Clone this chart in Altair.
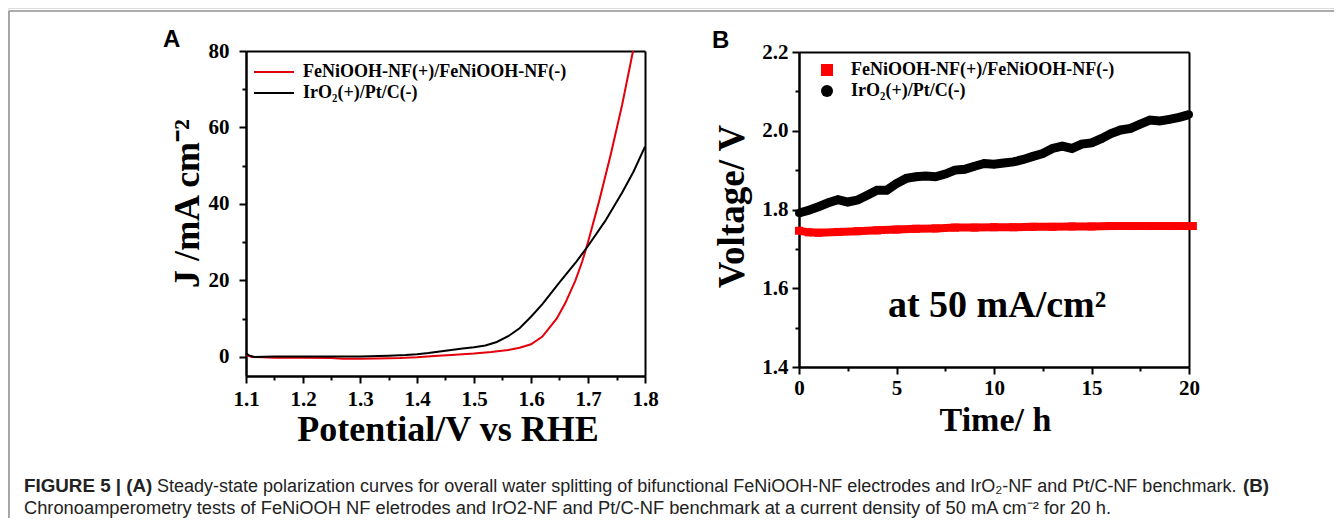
import altair as alt
import pandas as pd

# ---------------- data ----------------
S1 = "FeNiOOH-NF(+)/FeNiOOH-NF(-)"
S2 = "IrO₂(+)/Pt/C(-)"

# Panel A: polarization curves
a_red_v = [1.100, 1.105, 1.110, 1.130, 1.150, 1.200, 1.250, 1.270, 1.300, 1.330, 1.370, 1.400,
           1.430, 1.460, 1.500, 1.530, 1.560, 1.580, 1.600, 1.620, 1.645, 1.660, 1.678, 1.690,
           1.700, 1.720, 1.740, 1.760, 1.779]
a_red_j = [0.6, 0.3, 0.0, -0.1, -0.2, -0.2, -0.3, -0.5, -0.5, -0.4, -0.3, -0.1,
           0.2, 0.5, 0.9, 1.3, 1.8, 2.4, 3.3, 5.3, 10.0, 14.0, 20.0, 25.0,
           30.0, 41.0, 53.0, 66.0, 80.0]
a_blk_v = [1.100, 1.105, 1.115, 1.150, 1.200, 1.250, 1.300, 1.350, 1.380, 1.400, 1.420, 1.450,
           1.480, 1.500, 1.520, 1.540, 1.560, 1.580, 1.600, 1.620, 1.650, 1.680, 1.700, 1.730,
           1.760, 1.780, 1.800]
a_blk_j = [0.9, 0.4, 0.0, 0.1, 0.1, 0.1, 0.1, 0.3, 0.5, 0.7, 1.0, 1.6,
           2.2, 2.5, 3.0, 3.9, 5.4, 7.5, 10.5, 13.8, 19.5, 25.0, 29.0, 35.5,
           43.0, 48.5, 55.0]

# Panel B: chronopotentiometry
b_red_t = [0, 0.5, 1, 2, 3, 4, 5, 6, 7, 8, 9, 10, 11, 12, 13, 14, 15, 16, 17, 18, 19, 20, 20.2]
b_red_v = [1.746, 1.742, 1.741, 1.743, 1.745, 1.747, 1.749, 1.751, 1.752, 1.754, 1.754, 1.755,
           1.755, 1.756, 1.756, 1.757, 1.757, 1.758, 1.758, 1.758, 1.758, 1.758, 1.758]
b_blk_t = [0, 0.5, 1, 1.5, 2, 2.5, 3, 3.5, 4, 4.5, 5, 5.5, 6, 6.5, 7, 7.5, 8, 8.5, 9, 9.5, 10,
           10.5, 11, 11.5, 12, 12.5, 13, 13.5, 14, 14.5, 15, 15.5, 16, 16.5, 17, 17.5, 18, 18.5,
           19, 19.5, 20]
b_blk_v = [1.791, 1.798, 1.807, 1.817, 1.825, 1.819, 1.824, 1.836, 1.849, 1.849, 1.866, 1.879,
           1.883, 1.885, 1.883, 1.890, 1.900, 1.902, 1.910, 1.917, 1.915, 1.918, 1.921, 1.927,
           1.935, 1.942, 1.955, 1.961, 1.955, 1.966, 1.969, 1.980, 1.993, 2.002, 2.006, 2.017,
           2.027, 2.025, 2.029, 2.034, 2.041]

# ticks
A_XT = [1.1, 1.2, 1.3, 1.4, 1.5, 1.6, 1.7, 1.8]
A_XM = [1.15, 1.25, 1.35, 1.45, 1.55, 1.65, 1.75]
A_YT = [0, 20, 40, 60, 80]
A_YM = [10, 30, 50, 70]
B_XT = [0, 5, 10, 15, 20]
B_XM = [2.5, 7.5, 12.5, 17.5]
B_YT = [1.4, 1.6, 1.8, 2.0, 2.2]
B_YM = [1.5, 1.7, 1.9, 2.1]

# ---------------- layout (chart pixel coords) ----------------
W, H = 1326, 510
A_XR, A_YR = [238, 637], [368, 43]
B_XR, B_YR = [791, 1181], [359, 44]
A_XD, A_YD = [1.1, 1.8], [-5, 80]
B_XD, B_YD = [0, 20], [1.4, 2.2]

dfA = pd.DataFrame({"v": a_red_v + a_blk_v, "j": a_red_j + a_blk_j,
                    "series": [S1] * len(a_red_v) + [S2] * len(a_blk_v)})
dfBr = pd.DataFrame({"t": b_red_t, "v": b_red_v, "series": S1})
dfBb = pd.DataFrame({"t": b_blk_t, "v": b_blk_v, "series": S2})
dfB = pd.concat([dfBr, dfBb], ignore_index=True)
dummy = pd.DataFrame({"d": [0]})

SERIF = "Liberation Serif"
SANS = "Liberation Sans"
AX = dict(domainColor="black", domainWidth=2, tickColor="black", tickWidth=2, grid=False,
          labelFont=SERIF, labelFontWeight="bold", labelFontSize=21, labelColor="black",
          titleFont=SERIF, titleFontWeight="bold", titleColor="black",
          labelFlush=False, labelOverlap=False)


def sc(d, r):
    return alt.Scale(domain=d, range=r, zero=False, nice=False)


def enc_xy(xf, yf, xd, xr, yd, yr, xaxis, yaxis):
    return dict(x=alt.X(xf, type="quantitative", scale=sc(xd, xr), axis=xaxis),
                y=alt.Y(yf, type="quantitative", scale=sc(yd, yr), axis=yaxis))


def minor_axes(orient_x_off, orient_y_off, xv, yv):
    xa = alt.Axis(orient="bottom", offset=orient_x_off, values=xv, labels=False, tickSize=4,
                  title=None, domain=True, domainColor="black", domainWidth=2,
                  tickColor="black", tickWidth=2, grid=False)
    ya = alt.Axis(orient="left", offset=orient_y_off, values=yv, labels=False, tickSize=4,
                  title=None, domain=True, domainColor="black", domainWidth=2,
                  tickColor="black", tickWidth=2, grid=False)
    return xa, ya


def box_axes(top_off, right_off):
    xa = alt.Axis(orient="top", offset=top_off, labels=False, ticks=False, title=None,
                  domainColor="black", domainWidth=2, grid=False)
    ya = alt.Axis(orient="right", offset=right_off, labels=False, ticks=False, title=None,
                  domainColor="black", domainWidth=2, grid=False)
    return xa, ya


layers = []

# frame of the figure page
layers.append(alt.Chart(dummy).mark_rule(color="#909090", strokeWidth=1.5).encode(
    x=alt.value(1), x2=alt.value(W), y=alt.value(3)))
layers.append(alt.Chart(dummy).mark_rule(color="#909090", strokeWidth=1.5).encode(
    x=alt.value(1), y=alt.value(3), y2=alt.value(H)))

# panel letters
layers.append(alt.Chart(dummy).mark_text(text="A", font=SANS, fontWeight="bold", fontSize=24,
                                         align="left", baseline="alphabetic", color="black").encode(
    x=alt.value(155), y=alt.value(39)))
layers.append(alt.Chart(dummy).mark_text(text="B", font=SANS, fontWeight="bold", fontSize=24,
                                         align="left", baseline="alphabetic", color="black").encode(
    x=alt.value(704), y=alt.value(40)))

# ---------- Panel A ----------
bx, by = box_axes(-A_YR[1], A_XR[1] - W)
layers.append(alt.Chart(dfA).mark_line(strokeOpacity=0).encode(
    **enc_xy("v", "j", A_XD, A_XR, A_YD, A_YR, bx, by), detail="series:N"))
mx, my = minor_axes(-(H - A_YR[0]), -A_XR[0], A_XM, A_YM)
layers.append(alt.Chart(dfA).mark_line(strokeOpacity=0).encode(
    **enc_xy("v", "j", A_XD, A_XR, A_YD, A_YR, mx, my), detail="series:N"))

ax_A_x = alt.Axis(orient="bottom", offset=-(H - A_YR[0]), values=A_XT, format=".1f", tickSize=7,
                  labelPadding=5, title="Potential/V vs RHE", titleFontSize=36,
                  titleX=439.5, titleY=64,
                  titleBaseline="alphabetic", titleAlign="center", **AX)
ax_A_y = alt.Axis(orient="left", offset=-A_XR[0], values=A_YT, format="d", tickSize=7,
                  labelPadding=10, title="J /mA cm⁻²", titleFontSize=36, titleAngle=270,
                  titleX=-48, titleY=195,
                  titleBaseline="alphabetic", titleAlign="center", **AX)
layers.append(alt.Chart(dfA).mark_line(strokeWidth=2).encode(
    **enc_xy("v", "j", A_XD, A_XR, A_YD, A_YR, ax_A_x, ax_A_y),
    color=alt.Color("series:N", scale=alt.Scale(domain=[S1, S2], range=["#e3000b", "#000000"]),
                    legend=alt.Legend(orient="none", legendX=257, legendY=55, title=None,
                                      symbolType="M-4,0H4", symbolSize=100, symbolStrokeWidth=2,
                                      labelFont=SERIF, labelFontWeight="bold", labelFontSize=18,
                                      labelColor="black", labelOffset=20, rowPadding=3,
                                      labelLimit=0, padding=0)),
    order=alt.Order("v:Q")))

# ---------- Panel B ----------
bx, by = box_axes(-B_YR[1], B_XR[1] - W)
layers.append(alt.Chart(dfB).mark_line(strokeOpacity=0).encode(
    **enc_xy("t", "v", B_XD, B_XR, B_YD, B_YR, bx, by), detail="series:N"))
mx, my = minor_axes(-(H - B_YR[0]), -B_XR[0], B_XM, B_YM)
layers.append(alt.Chart(dfB).mark_line(strokeOpacity=0).encode(
    **enc_xy("t", "v", B_XD, B_XR, B_YD, B_YR, mx, my), detail="series:N"))

layers.append(alt.Chart(dfBb).mark_line(strokeWidth=9, color="black").encode(
    **enc_xy("t", "v", B_XD, B_XR, B_YD, B_YR, None, None)))
layers.append(alt.Chart(dfBr).mark_line(strokeWidth=8, color="#ff0000", strokeCap="butt").encode(
    **enc_xy("t", "v", B_XD, B_XR, B_YD, B_YR, None, None)))

ax_B_x = alt.Axis(orient="bottom", offset=-(H - B_YR[0]), values=B_XT, format="d", tickSize=7,
                  labelPadding=3, title="Time/ h", titleFontSize=34, titleX=987, titleY=63,
                  titleBaseline="alphabetic", titleAlign="center", **AX)
ax_B_y = alt.Axis(orient="left", offset=-B_XR[0], values=B_YT, format=".1f", tickSize=7,
                  labelPadding=4, title="Voltage/ V", titleFontSize=37, titleAngle=270,
                  titleX=-56, titleY=198,
                  titleBaseline="alphabetic", titleAlign="center", **AX)
legB = alt.Legend(orient="none", legendX=810, legendY=53, title=None, symbolSize=144,
                  labelFont=SERIF, labelFontWeight="bold", labelFontSize=18, labelColor="black",
                  labelOffset=15, rowPadding=3, labelLimit=0, padding=0)
layers.append(alt.Chart(dfB).mark_point(filled=True, size=64, opacity=1).encode(
    **enc_xy("t", "v", B_XD, B_XR, B_YD, B_YR, ax_B_x, ax_B_y),
    color=alt.Color("series:N", scale=alt.Scale(domain=[S1, S2], range=["#ff0000", "#000000"]),
                    legend=legB),
    shape=alt.Shape("series:N", scale=alt.Scale(domain=[S1, S2], range=["square", "circle"]),
                    legend=legB)))

layers.append(alt.Chart(dummy).mark_text(text="at 50 mA/cm²", font=SERIF, fontWeight="bold",
                                         fontSize=38, align="center", baseline="alphabetic",
                                         color="black").encode(
    x=alt.value(989), y=alt.value(309)))

# ---------- caption ----------
CAP = "#222222"
cap_pieces = [
    ("FIGURE 5 | (A)", 16, 484, "bold", 18.8),
    ("Steady-state polarization curves for overall water splitting of bifunctional FeNiOOH-NF "
     "electrodes and IrO₂-NF and Pt/C-NF benchmark.", 149, 484, "normal", 18.0),
    ("(B)", 1235, 484, "bold", 18.8),
    ("Chronoamperometry tests of FeNiOOH NF eletrodes and IrO2-NF and Pt/C-NF benchmark at a "
     "current density of 50 mA cm⁻² for 20 h.", 16, 506, "normal", 18.3),
]
for txt, px, py, wt, fs in cap_pieces:
    layers.append(alt.Chart(dummy).mark_text(text=txt, font=SANS, fontWeight=wt, fontSize=fs,
                                             align="left", baseline="alphabetic",
                                             color=CAP).encode(x=alt.value(px), y=alt.value(py)))

chart = alt.layer(*layers).resolve_scale(
    x="independent", y="independent", color="independent", shape="independent"
).resolve_axis(x="independent", y="independent").resolve_legend(
    color="independent", shape="independent"
).properties(
    width=W, height=H, padding=0, autosize=alt.AutoSizeParams(type="none")
).configure_view(strokeWidth=0).configure(background="white")

chart.save("out.html", embed_options={"renderer": "svg", "actions": False})
